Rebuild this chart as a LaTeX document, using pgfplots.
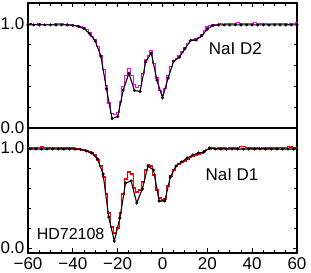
\documentclass[border=0pt]{standalone}
\usepackage{pgfplots}
\pgfplotsset{compat=1.18}
\usepackage{fontspec}
\setmainfont{Liberation Sans}
\definecolor{mag}{RGB}{255,0,255}
\definecolor{rd}{RGB}{255,0,0}
\begin{document}
\begin{tikzpicture}
\useasboundingbox (0,0) rectangle (311bp,273bp);
\pgfplotsset{
  panel/.style={
    scale only axis, width=269bp, height=125bp,
    xmin=-60, xmax=60,
    xtick={-60,-40,-20,0,20,40,60},
    minor xtick={-55,-50,-45,-35,-30,-25,-15,-10,-5,5,10,15,25,30,35,45,50,55},
    ytick={0,1}, minor ytick={0.2,0.4,0.6,0.8},
    yticklabels={0.0,1.0},
    tick align=inside, major tick length=4.5bp, minor tick length=3bp,
    axis line style={line width=1.2bp},
    every tick/.style={black, line width=0.9bp},
    ytick pos=both,
    tick label style={font=\fontsize{17bp}{20bp}\selectfont, inner sep=0.5bp},
    yticklabel style={xshift=-3bp},
    xticklabel style={yshift=-3.5bp},
    clip=true,
  },
  blk/.style={black, line width=1.1bp, mark=*, mark size=0.9bp, mark options={solid}},
}
% ---------------- top panel: NaI D2 ----------------
\begin{axis}[panel, at={(28bp,145bp)}, anchor=south west,
  ymin=0, ymax=1.2, xtick pos=right, xticklabels={}]
\addplot[mag, line width=1.1bp, const plot mark mid] coordinates {
(-61.25,0.995)(-60,1.0)(-58.75,0.995)(-57.5,0.99)(-56.25,0.995)(-55,1.0)(-53.75,0.995)(-52.5,0.99)(-51.25,0.995)(-50,0.99)(-48.75,0.995)(-47.5,1.0)(-46.25,1.005)(-45,1.0)(-43.75,0.995)(-42.5,0.995)(-41.25,0.99)
(-40,0.985)(-38.75,0.985)(-37.5,0.98)(-36.25,0.97)(-35,0.96)(-33.75,0.945)(-32.5,0.92)(-31.25,0.88)(-30,0.85)(-28.75,0.78)(-27.5,0.70)(-26.25,0.56)(-25,0.41)(-23.75,0.24)(-22.5,0.14)(-21.25,0.13)(-20,0.15)(-18.75,0.25)(-17.5,0.40)(-16.25,0.50)(-15,0.57)(-13.75,0.50)(-12.5,0.42)(-11.25,0.39)(-10,0.41)(-8.75,0.52)(-7.5,0.66)(-6.25,0.70)(-5,0.74)(-3.75,0.62)(-2.5,0.48)(-1.25,0.36)(0,0.32)(1.25,0.38)(2.5,0.50)(3.75,0.59)(5,0.65)(6.25,0.67)(7.5,0.70)(8.75,0.73)(10,0.77)(11.25,0.81)(12.5,0.84)(13.75,0.845)(15,0.86)(16.25,0.87)(17.5,0.90)(18.75,0.94)(20,0.97)(21.25,0.98)(22.5,0.99)(23.75,0.99)(25,0.995)
(26.25,1.0)(27.5,0.995)(28.75,1.0)(30,1.005)(31.25,1.0)(32.5,1.005)(33.75,1.01)(35,1.005)(36.25,1.0)(37.5,1.005)(38.75,1.0)(40,1.005)(41.25,1.01)(42.5,1.005)(43.75,1.0)(45,1.005)(46.25,1.0)(47.5,0.995)(48.75,1.0)(50,1.005)(51.25,1.0)(52.5,1.0)(53.75,1.005)(55,1.0)(56.25,0.995)(57.5,1.0)(58.75,1.005)(60,1.01)(61.25,1.005)
};
\addplot[blk] coordinates {
(-60,0.99)(-57.5,0.99)(-55,0.99)(-52.5,0.99)(-50,0.99)(-47.5,0.99)(-45,0.99)(-42.5,0.99)(-40,0.985)(-37.5,0.975)(-35,0.955)(-32.5,0.905)(-30,0.835)(-27.5,0.69)(-25,0.375)(-22.5,0.09)(-20,0.11)(-17.5,0.365)(-15,0.525)(-12.5,0.36)(-10,0.35)(-7.5,0.635)(-5,0.72)(-2.5,0.46)(0,0.29)(2.5,0.48)(5,0.64)(7.5,0.68)(10,0.76)(12.5,0.84)(15,0.845)(17.5,0.885)(20,0.95)(22.5,0.985)(25,0.99)(27.5,0.99)(30,0.99)(32.5,0.99)(35,0.99)(37.5,0.99)(40,0.99)(42.5,0.99)(45,0.99)(47.5,0.99)(50,0.99)(52.5,0.99)(55,0.99)(57.5,0.99)(60,0.99)
};
\node[font=\fontsize{17bp}{20bp}\selectfont] at (axis cs:32.5,0.76) {NaI D2};
\end{axis}
% ---------------- bottom panel: NaI D1 ----------------
\begin{axis}[panel, at={(28bp,20bp)}, anchor=south west,
  ymin=-0.05, ymax=1.2, xtick pos=left,
  xticklabels={−60,−40,−20,0,20,40,60}]
\addplot[rd, line width=1.1bp, const plot mark mid] coordinates {
(-61.25,1.0)(-60,1.005)(-58.75,1.0)(-57.5,1.005)(-56.25,1.0)(-55,1.005)(-53.75,1.01)(-52.5,1.005)(-51.25,1.0)(-50,1.005)(-48.75,1.0)(-47.5,1.005)(-46.25,1.0)(-45,1.0)(-43.75,1.005)(-42.5,1.0)(-41.25,1.0)
(-40,1.0)(-38.75,0.995)(-37.5,0.99)(-36.25,0.985)(-35,0.98)(-33.75,0.97)(-32.5,0.96)(-31.25,0.95)(-30,0.93)(-28.75,0.88)(-27.5,0.82)(-26.25,0.71)(-25,0.54)(-23.75,0.35)(-22.5,0.21)(-21.25,0.15)(-20,0.20)(-18.75,0.35)(-17.5,0.54)(-16.25,0.69)(-15,0.76)(-13.75,0.74)(-12.5,0.60)(-11.25,0.56)(-10,0.58)(-8.75,0.66)(-7.5,0.78)(-6.25,0.83)(-5,0.82)(-3.75,0.73)(-2.5,0.58)(-1.25,0.50)(0,0.48)(1.25,0.49)(2.5,0.62)(3.75,0.72)(5,0.78)(6.25,0.82)(7.5,0.84)(8.75,0.86)(10,0.87)(11.25,0.89)(12.5,0.91)(13.75,0.92)(15,0.93)(16.25,0.935)(17.5,0.95)(18.75,0.97)(20,0.985)(21.25,0.99)(22.5,1.0)
(23.75,0.995)(25,1.0)(26.25,1.005)(27.5,1.0)(28.75,0.995)(30,1.0)(31.25,1.005)(32.5,1.0)(33.75,1.005)(35,1.015)(36.25,1.015)(37.5,1.005)(38.75,1.0)(40,1.0)(41.25,1.005)(42.5,1.0)(43.75,0.995)(45,1.0)(46.25,1.005)(47.5,1.0)(48.75,1.0)(50,1.005)(51.25,1.0)(52.5,1.005)(53.75,1.0)(55,1.005)(56.25,1.015)(57.5,1.01)(58.75,1.0)(60,1.0)(61.25,1.0)
};
\addplot[blk] coordinates {
(-61.5,0.99)(-59,0.99)(-56.5,0.99)(-54,0.99)(-51.5,0.99)(-49,0.99)(-46.5,0.99)(-44,0.99)(-41.5,0.99)(-39,0.99)(-36.5,0.985)(-34,0.97)(-31.5,0.95)(-29,0.89)(-26.5,0.74)(-24,0.31)(-21.5,0.07)(-19,0.30)(-16.5,0.65)(-14,0.67)(-11.5,0.45)(-9,0.59)(-6.5,0.82)(-4,0.78)(-1.5,0.47)(1,0.47)(3.5,0.71)(6,0.82)(8.5,0.86)(11,0.90)(13.5,0.93)(16,0.95)(18.5,0.96)(21,1.0)(23.5,0.99)(26,0.99)(28.5,0.99)(31,0.99)(33.5,0.99)(36,0.99)(38.5,0.99)(41,0.99)(43.5,0.99)(46,0.99)(48.5,0.99)(51,0.99)(53.5,0.99)(56,0.99)(58.5,0.99)(61,0.99)
};
\node[font=\fontsize{17bp}{20bp}\selectfont] at (axis cs:31,0.73) {NaI D1};
\node[font=\fontsize{16bp}{19bp}\selectfont] at (axis cs:-41,0.137) {HD72108};
\end{axis}
\end{tikzpicture}
\end{document}
